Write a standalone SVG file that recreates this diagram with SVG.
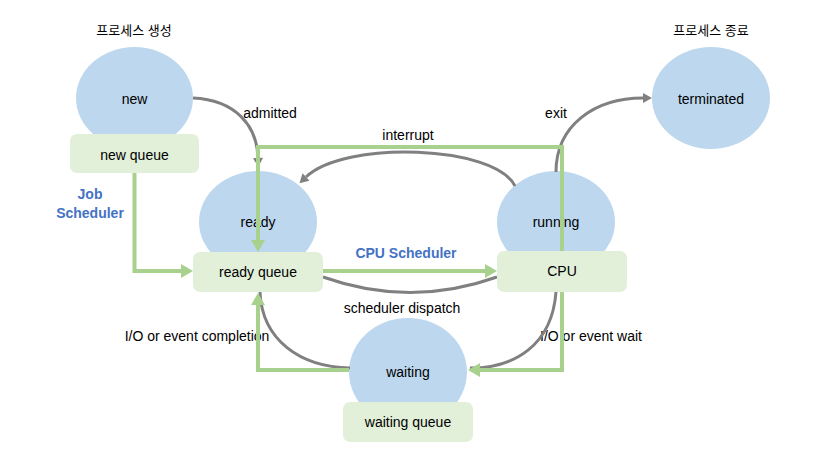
<svg xmlns="http://www.w3.org/2000/svg" width="823" height="455" viewBox="0 0 823 455">
<style>
.state{fill:#bdd7ee;}
.queue{fill:#e2f0d9;}
text{font-family:"Liberation Sans",Arial,sans-serif;font-size:14px;fill:#000;text-anchor:middle;}
.kr{font-family:"Liberation Sans","Noto Sans CJK KR",sans-serif;font-size:13px;}
.blue{fill:#4472c4;font-weight:bold;}
.gray{fill:none;stroke:#808080;stroke-width:3;}
.green{fill:none;stroke:#a9d18e;stroke-width:4;}
</style>
<defs>
<marker id="ag" markerUnits="userSpaceOnUse" markerWidth="10" markerHeight="10" refX="0" refY="5" orient="auto" overflow="visible">
<path d="M0,0 L9,5 L0,10 z" fill="#808080"/>
</marker>
<marker id="an" markerUnits="userSpaceOnUse" markerWidth="13" markerHeight="14" refX="0" refY="7" orient="auto" overflow="visible">
<path d="M0,0 L12,7 L0,14 z" fill="#a9d18e"/>
</marker>
</defs>
<rect width="823" height="455" fill="#fff"/>

<text class="kr" x="134" y="35">프로세스 생성</text>
<text class="kr" x="711" y="35">프로세스 종료</text>

<g id="new"><ellipse class="state" cx="134.5" cy="98" rx="58.5" ry="51"/><text x="134.5" y="104">new</text></g>
<g id="ready"><ellipse class="state" cx="258" cy="222" rx="59" ry="51"/><text x="258" y="227">ready</text></g>
<g id="running"><ellipse class="state" cx="556" cy="222" rx="59" ry="51"/><text x="556" y="227">running</text></g>
<g id="terminated"><ellipse class="state" cx="711" cy="98" rx="59" ry="51"/><text x="711" y="104">terminated</text></g>
<g id="waiting"><ellipse class="state" cx="408" cy="372" rx="59" ry="54"/><text x="408" y="377">waiting</text></g>

<g id="labels">
<text x="270" y="118">admitted</text>
<text x="408" y="140">interrupt</text>
<text x="556" y="118">exit</text>
<text class="blue" x="90" y="199">Job</text>
<text class="blue" x="90" y="218">Scheduler</text>
<text class="blue" x="406" y="258">CPU Scheduler</text>
<text x="402" y="313">scheduler dispatch</text>
<text x="197" y="341">I/O or event completion</text>
<text x="591" y="341">I/O or event wait</text>
</g>

<g id="connectors">
<path class="gray" d="M193,98 C235,100 257,125 258,158" marker-end="url(#ag)"/>
<path class="gray" d="M515,186 C495,145 345,140 306,177" marker-end="url(#ag)"/>
<path class="gray" d="M556,172 C556,125 595,98 643,98" marker-end="url(#ag)"/>
<path class="gray" d="M323,277 Q410,308 497,277"/>
<path class="gray" d="M556,292 C552,345 515,368 470,368"/>
<path class="gray" d="M260,292 C262,340 300,367 350,368"/>
<path class="green" d="M134.5,173 V271 H181" marker-end="url(#an)"/>
<path class="green" d="M323,271 H485" marker-end="url(#an)"/>
<path class="green" d="M562,251 V147 H258 V240" marker-end="url(#an)"/>
<path class="green" d="M562,292 V370 H480" marker-end="url(#an)"/>
<path class="green" d="M349,370 H258 V305" marker-end="url(#an)"/>
</g>

<g id="new-queue"><rect class="queue" x="70" y="134" width="129" height="39" rx="7"/><text x="134.5" y="160">new queue</text></g>
<g id="ready-queue"><rect class="queue" x="193" y="252" width="130" height="40" rx="7"/><text x="258" y="277">ready queue</text></g>
<g id="cpu"><rect class="queue" x="497" y="251" width="130" height="41" rx="7"/><text x="562" y="276">CPU</text></g>
<g id="waiting-queue"><rect class="queue" x="343" y="402" width="130" height="40" rx="7"/><text x="408" y="427">waiting queue</text></g>
</svg>
